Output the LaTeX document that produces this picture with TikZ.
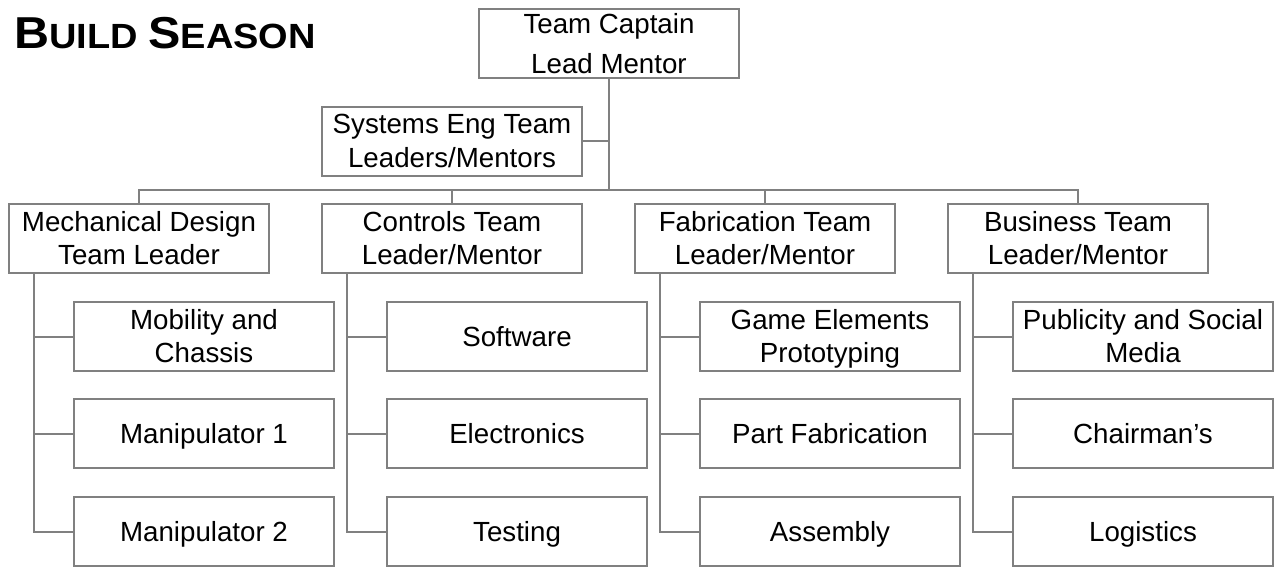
\documentclass[tikz,border=0pt]{standalone}
\usepackage{fontspec}
\setmainfont{Liberation Sans}
\definecolor{linegray}{RGB}{128,128,128}
\newcommand\twol[3]{\makebox[0pt]{\raisebox{#1pt}{#2}}\makebox[0pt]{#3}}
\begin{document}
\begin{tikzpicture}[x=1pt,y=-1pt,
  box/.style={draw=linegray, line width=2pt, minimum width=260pt, minimum height=69pt,
    inner sep=0pt, font=\fontsize{27.7}{33}\selectfont, text depth=0pt},
  one/.style={box, text height=19.8pt},
  two/.style={box, text height=#1},
  conn/.style={draw=linegray, line width=2pt}]
\useasboundingbox (0,0) rectangle (1282,566);
% title
\node[anchor=base west, inner sep=0pt, xscale=1.085, font=\bfseries] (title) at (14,48)
  {\fontsize{44.7}{50}\selectfont B\fontsize{35}{40}\selectfont UILD \fontsize{44.7}{50}\selectfont S\fontsize{35}{40}\selectfont EASON};
% top
\node[two=59.8pt] (top) at (609,43.5) {\twol{40}{Team Captain}{Lead Mentor}};
\node[two=53.8pt] (sys) at (452,141) {\twol{34}{Systems Eng Team}{Leaders/Mentors}};
% row 1
\node[two=52.8pt] (mech) at (139,238.5) {\twol{33}{Mechanical Design}{Team Leader}};
\node[two=52.8pt] (ctrl) at (452,238.5) {\twol{33}{Controls Team}{Leader/Mentor}};
\node[two=52.8pt] (fab) at (765,238.5) {\twol{33}{Fabrication Team}{Leader/Mentor}};
\node[two=52.8pt] (biz) at (1078,238.5) {\twol{33}{Business Team}{Leader/Mentor}};
% children
\node[two=52.8pt] (mob) at (204,336.5) {\twol{33}{Mobility and}{Chassis}};
\node[one] (man1) at (204,433.5) {Manipulator 1};
\node[one] (man2) at (204,531.5) {Manipulator 2};
\node[one] (soft) at (517,336.5) {Software};
\node[one] (elec) at (517,433.5) {Electronics};
\node[one] (test) at (517,531.5) {Testing};
\node[two=52.8pt] (game) at (830,336.5) {\twol{33}{Game Elements}{Prototyping}};
\node[one] (part) at (830,433.5) {Part Fabrication};
\node[one] (asm) at (830,531.5) {Assembly};
\node[two=52.8pt] (pub) at (1143,336.5) {\twol{33}{Publicity and Social}{Media}};
\node[one] (chair) at (1143,433.5) {Chairman’s};
\node[one] (log) at (1143,531.5) {Logistics};
% connectors
\coordinate (bus) at (609,190);
\draw[conn] (top.south) -- (bus);
\draw[conn] (sys.east) -- (sys.east -| top.south);
\draw[conn] (mech.north) -- (mech.north |- bus) -- (biz.north |- bus) -- (biz.north);
\draw[conn] (ctrl.north) -- (ctrl.north |- bus);
\draw[conn] (fab.north) -- (fab.north |- bus);
\foreach \p/\a/\b/\c in {mech/mob/man1/man2, ctrl/soft/elec/test, fab/game/part/asm, biz/pub/chair/log}{
  \coordinate (\p c) at ([xshift=26pt]\p.south west);
  \draw[conn] (\p c) |- (\c.west);
  \draw[conn] (\a.west -| \p c) -- (\a.west);
  \draw[conn] (\b.west -| \p c) -- (\b.west);
}
\end{tikzpicture}
\end{document}
